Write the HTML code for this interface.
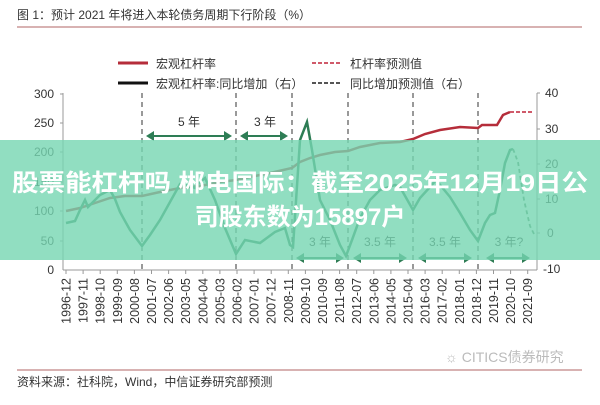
<!DOCTYPE html>
<html><head><meta charset="utf-8"><style>
body{margin:0;width:600px;height:400px;background:#fff;overflow:hidden;font-family:"Liberation Sans","Noto Sans CJK SC",sans-serif}
</style></head><body>
<svg width="600" height="400" xmlns="http://www.w3.org/2000/svg" font-family="Liberation Sans, Noto Sans CJK SC, sans-serif">
<text x="17" y="19" font-size="12" fill="#333">图 1：预计 2021 年将进入本轮债务周期下行阶段（%）</text>
<line x1="17" y1="27" x2="582" y2="27" stroke="#c99" stroke-width="1.5"/>
<line x1="118" y1="63" x2="148" y2="63" stroke="#b52d3a" stroke-width="3"/>
<text x="156" y="68" font-size="12" fill="#333">宏观杠杆率</text>
<line x1="118" y1="83" x2="148" y2="83" stroke="#111" stroke-width="3"/>
<text x="156" y="88" font-size="12" fill="#333">宏观杠杆率:同比增加（右）</text>
<line x1="312" y1="63" x2="342" y2="63" stroke="#d05a6a" stroke-width="2" stroke-dasharray="4,2"/>
<text x="350" y="68" font-size="12" fill="#333">杠杆率预测值</text>
<line x1="312" y1="83" x2="342" y2="83" stroke="#555" stroke-width="2" stroke-dasharray="4,2"/>
<text x="350" y="88" font-size="12" fill="#333">同比增加预测值（右）</text>
<g stroke="#999" stroke-width="1">
<line x1="63" y1="93" x2="63" y2="270"/><line x1="537" y1="93" x2="537" y2="270"/>
<line x1="63" y1="270" x2="537" y2="270"/>
<line x1="60" y1="94" x2="63" y2="94"/><line x1="60" y1="123" x2="63" y2="123"/><line x1="60" y1="152" x2="63" y2="152"/><line x1="60" y1="182" x2="63" y2="182"/><line x1="60" y1="211" x2="63" y2="211"/><line x1="60" y1="241" x2="63" y2="241"/>
<line x1="537" y1="93" x2="540" y2="93"/><line x1="537" y1="129" x2="540" y2="129"/><line x1="537" y1="164" x2="540" y2="164"/><line x1="537" y1="199" x2="540" y2="199"/><line x1="537" y1="233" x2="540" y2="233"/>
</g>
<g font-size="12" fill="#333" text-anchor="end">
<text x="54" y="98">300</text><text x="54" y="127">250</text><text x="54" y="156">200</text><text x="54" y="186">150</text><text x="54" y="215">100</text><text x="54" y="245">50</text><text x="54" y="274">0</text>
</g>
<g font-size="12" fill="#333">
<text x="545" y="97">40</text><text x="545" y="133">30</text><text x="545" y="168">20</text><text x="545" y="203">10</text><text x="547" y="237">0</text><text x="543" y="273">-10</text>
</g>
<g stroke="#333" stroke-width="1" stroke-dasharray="5,4">
<line x1="142" y1="93" x2="142" y2="270"/><line x1="236" y1="93" x2="236" y2="270"/><line x1="292" y1="93" x2="292" y2="270"/><line x1="348" y1="93" x2="348" y2="270"/><line x1="413" y1="93" x2="413" y2="270"/><line x1="478" y1="93" x2="478" y2="270"/>
</g>
<polyline fill="none" stroke="#b52d3a" stroke-width="2.5" points="66,211 80,208 95,203 110,198 125,196 142,196 160,192 180,188 200,186 220,182 236,180 250,177 270,173 292,168 300,162 310,158 320,155 335,152 348,151 360,147 380,143 400,142 413,139 425,134 440,130 460,127 478,128 482,125 497,125 503,115 510,112"/>
<polyline fill="none" stroke="#d05a6a" stroke-width="2" stroke-dasharray="4,2" points="510,112 532,112"/>
<polyline fill="none" stroke="#2e7d55" stroke-width="2.5" points="66,223 75,221 80,210 85,200 88,207 92,203 100,195 110,190 115,199 120,212 130,230 142,246 150,235 160,220 170,202 180,184 190,186 195,188 200,182 205,178 215,200 225,228 236,254 245,240 260,243 275,232 285,228 290,245 293,247 300,140 307,122 312,150 320,200 330,220 340,245 346,256 352,240 360,218 370,200 380,190 395,185 400,187 413,210 420,198 430,187 436,180 450,197 460,213 470,230 478,241 485,223 490,215 495,213 500,190 505,163 510,150 513,149"/>
<polyline fill="none" stroke="#5a8a6a" stroke-width="1.8" stroke-dasharray="4,3" points="513,149 518,162 524,200 530,226 535,236"/>
<g stroke="#2e7d55" stroke-width="2" fill="#2e7d55" font-size="12">
<line x1="150" y1="136" x2="228" y2="136"/><path d="M146,136 l8,-5 v10z M232,136 l-8,-5 v10z" stroke="none"/>
<line x1="244" y1="136" x2="284" y2="136"/><path d="M240,136 l8,-5 v10z M288,136 l-8,-5 v10z" stroke="none"/>
<line x1="300" y1="258" x2="340" y2="258"/><path d="M296,258 l8,-5 v10z M344,258 l-8,-5 v10z" stroke="none"/>
<line x1="357" y1="258" x2="403" y2="258"/><path d="M353,258 l8,-5 v10z M407,258 l-8,-5 v10z" stroke="none"/>
<line x1="422" y1="258" x2="468" y2="258"/><path d="M418,258 l8,-5 v10z M472,258 l-8,-5 v10z" stroke="none"/>
<line x1="490" y1="258" x2="526" y2="258"/><path d="M486,258 l8,-5 v10z M530,258 l-8,-5 v10z" stroke="none"/>
</g>
<g font-size="12" fill="#333" text-anchor="middle">
<text x="189" y="126">5 年</text><text x="265" y="126">3 年</text>
<text x="320" y="246">3 年</text><text x="380" y="246">3.5 年</text><text x="445" y="246">3.5 年</text><text x="509" y="246">3 年?</text>
</g>
<g font-size="12.5" fill="#333" text-anchor="end">
<text transform="translate(70.5,278) rotate(-90)">1996-12</text>
<text transform="translate(87.6,278) rotate(-90)">1997-11</text>
<text transform="translate(104.7,278) rotate(-90)">1998-10</text>
<text transform="translate(121.8,278) rotate(-90)">1999-09</text>
<text transform="translate(138.9,278) rotate(-90)">2000-08</text>
<text transform="translate(156,278) rotate(-90)">2001-07</text>
<text transform="translate(173.1,278) rotate(-90)">2002-06</text>
<text transform="translate(190.2,278) rotate(-90)">2003-05</text>
<text transform="translate(207.3,278) rotate(-90)">2004-04</text>
<text transform="translate(224.4,278) rotate(-90)">2005-03</text>
<text transform="translate(241.5,278) rotate(-90)">2006-02</text>
<text transform="translate(258.6,278) rotate(-90)">2007-01</text>
<text transform="translate(275.7,278) rotate(-90)">2007-12</text>
<text transform="translate(292.8,278) rotate(-90)">2008-11</text>
<text transform="translate(309.9,278) rotate(-90)">2009-10</text>
<text transform="translate(327,278) rotate(-90)">2010-09</text>
<text transform="translate(344.1,278) rotate(-90)">2011-08</text>
<text transform="translate(361.2,278) rotate(-90)">2012-07</text>
<text transform="translate(378.3,278) rotate(-90)">2013-06</text>
<text transform="translate(395.4,278) rotate(-90)">2014-05</text>
<text transform="translate(412.5,278) rotate(-90)">2015-04</text>
<text transform="translate(429.6,278) rotate(-90)">2016-03</text>
<text transform="translate(446.7,278) rotate(-90)">2017-02</text>
<text transform="translate(463.8,278) rotate(-90)">2018-01</text>
<text transform="translate(480.9,278) rotate(-90)">2018-12</text>
<text transform="translate(498,278) rotate(-90)">2019-11</text>
<text transform="translate(515.1,278) rotate(-90)">2020-10</text>
<text transform="translate(532.2,278) rotate(-90)">2021-09</text>
</g>
<g stroke="#999"><path d="M66,270v4M83.1,270v4M100.2,270v4M117.3,270v4M134.4,270v4M151.5,270v4M168.6,270v4M185.7,270v4M202.8,270v4M219.9,270v4M237,270v4M254.1,270v4M271.2,270v4M288.3,270v4M305.4,270v4M322.5,270v4M339.6,270v4M356.7,270v4M373.8,270v4M390.9,270v4M408,270v4M425.1,270v4M442.2,270v4M459.3,270v4M476.4,270v4M493.5,270v4M510.6,270v4M527.7,270v4"/></g>
<text x="445" y="362" font-size="14" fill="#bbb">☼ CITICS债券研究</text>
<line x1="17" y1="370" x2="582" y2="370" stroke="#c99" stroke-width="1.5"/>
<text x="17" y="386" font-size="12" fill="#333">资料来源：社科院，Wind，中信证券研究部预测</text>
<rect x="0" y="140" width="600" height="120" fill="rgba(118,214,178,0.8)"/>
<g font-size="24" font-weight="bold" fill="#fff" text-anchor="middle" font-family="Liberation Sans, Noto Sans CJK SC, sans-serif">
<text x="300" y="191" textLength="576" lengthAdjust="spacingAndGlyphs">股票能杠杆吗 郴电国际：截至2025年12月19日公</text>
<text x="300" y="225">司股东数为15897户</text>
</g>
</svg>
</body></html>
